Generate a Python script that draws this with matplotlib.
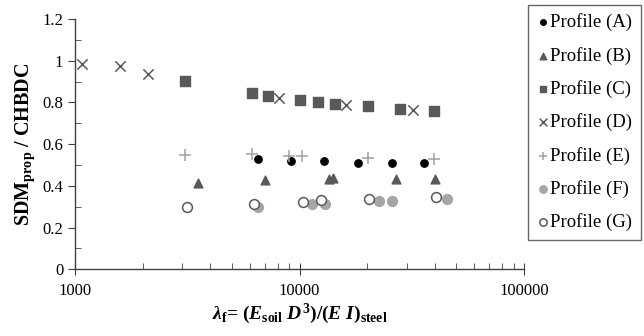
import numpy as np
import matplotlib as mpl
import matplotlib.pyplot as plt
from matplotlib.ticker import LogLocator, MultipleLocator, FixedLocator, NullFormatter

mpl.rcParams.update({
    "font.family": "serif",
    "font.serif": ["Liberation Serif", "DejaVu Serif"],
    "mathtext.fontset": "custom",
    "mathtext.rm": "Liberation Serif:bold",
    "mathtext.it": "Liberation Serif:italic:bold",
    "mathtext.bf": "Liberation Serif:bold",
})

# data
a_x = [6560, 9140, 12900, 18160, 25740, 35970]
a_y = [0.528, 0.520, 0.517, 0.512, 0.510, 0.510]

b_x = [3540, 7010, 13500, 14100, 26900, 40200]
b_y = [0.413, 0.429, 0.435, 0.437, 0.432, 0.432]

c_x = [3090, 6120, 7210, 10100, 12130, 14390, 20140, 28050, 39800]
c_y = [0.904, 0.843, 0.832, 0.814, 0.803, 0.794, 0.781, 0.770, 0.761]

d_x = [1071, 1586, 2121, 8128, 16100, 32100]
d_y = [0.986, 0.973, 0.936, 0.819, 0.787, 0.765]

e_x = [3090, 6120, 9020, 10230, 20140, 39800]
e_y = [0.547, 0.552, 0.544, 0.544, 0.533, 0.530]

f_x = [6560, 11400, 13000, 22600, 25740, 45300]
f_y = [0.298, 0.312, 0.313, 0.329, 0.329, 0.339]

g_x = [3165, 6270, 10330, 12480, 20400, 40500]
g_y = [0.298, 0.313, 0.325, 0.333, 0.337, 0.346]

fig = plt.figure(figsize=(6.44, 3.36), dpi=100)
ax = fig.add_axes([75 / 644, 66.7 / 336, 449 / 644, 250.3 / 336])

dark = "#595959"
ax.scatter(a_x, a_y, marker="o", s=28, color="black", label="Profile (A)", zorder=3)
ax.scatter(b_x, b_y, marker="^", s=40, color=dark, label="Profile (B)", zorder=3)
ax.scatter(c_x, c_y, marker="s", s=45, color=dark, label="Profile (C)", zorder=3)
ax.scatter(d_x, d_y, marker="x", s=55, color=dark, linewidths=1.1, label="Profile (D)", zorder=3)
ax.scatter(e_x, e_y, marker="+", s=70, color="#a0a0a0", linewidths=1.1, label="Profile (E)", zorder=3)
ax.scatter(f_x, f_y, marker="o", s=50, color="#a6a6a6", label="Profile (F)", zorder=3)
ax.scatter(g_x, g_y, marker="o", s=50, facecolors="white", edgecolors=dark,
           linewidths=1.1, label="Profile (G)", zorder=4)

ax.set_xscale("log")
ax.set_xlim(1000, 100000)
ax.set_ylim(0, 1.2)

for s in ["top", "right"]:
    ax.spines[s].set_visible(False)
for s in ["left", "bottom"]:
    ax.spines[s].set_color("#404040")
    ax.spines[s].set_linewidth(1.0)

ax.xaxis.set_major_locator(FixedLocator([1000, 10000, 100000]))
ax.set_xticklabels(["1000", "10000", "100000"])
ax.xaxis.set_minor_locator(LogLocator(base=10, subs=np.arange(2, 10)))
ax.xaxis.set_minor_formatter(NullFormatter())
ax.yaxis.set_minor_locator(MultipleLocator(0.1))
ax.set_yticks([0, 0.2, 0.4, 0.6, 0.8, 1.0, 1.2])
ax.set_yticklabels(["0", "0.2", "0.4", "0.6", "0.8", "1", "1.2"])

ax.tick_params(axis="x", which="major", direction="inout", length=8, color="#404040", labelsize=12, pad=6)
ax.tick_params(axis="x", which="minor", direction="in", length=4, color="#404040")
ax.tick_params(axis="y", which="major", direction="out", length=5, color="#404040", labelsize=12)
ax.tick_params(axis="y", which="minor", direction="in", length=4, color="#404040")

ax.set_xlabel(r"$\lambda_\mathrm{f}$= ($E_\mathrm{soil}$ $D^3$)/($E$ $I$)$_\mathrm{steel}$",
              fontsize=14, fontweight="bold", labelpad=2)
ax.set_ylabel(r"SDM$_\mathrm{prop}$ / CHBDC", fontsize=14.5, fontweight="bold", labelpad=4)

leg = ax.legend(loc="upper left", fontsize=13.5, frameon=True, fancybox=False,
                handletextpad=0.05, handlelength=0.7, labelspacing=0.82,
                borderpad=0.45, borderaxespad=0, markerscale=0.75)
leg.set_bbox_to_anchor((528 / 644, 1 - 5 / 336), transform=fig.transFigure)
leg.get_frame().set_edgecolor("#404040")
leg.get_frame().set_linewidth(1.0)

fig.savefig("out.png", dpi=100)
